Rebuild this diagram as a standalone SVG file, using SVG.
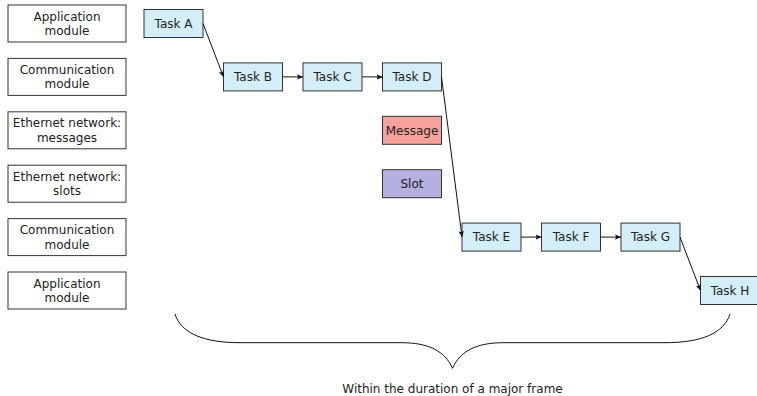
<svg xmlns="http://www.w3.org/2000/svg" width="757" height="396" viewBox="0 0 757 396">
<style>
text{font-family:"DejaVu Sans",sans-serif;font-size:12px;fill:#222;text-anchor:middle}
.lbl rect{fill:#fff;stroke:#333;stroke-width:1}
.task rect{fill:#d4eef8;stroke:#333;stroke-width:1}
.msg rect{fill:#f6a19b;stroke:#333;stroke-width:1}
.slot rect{fill:#b4b0e0;stroke:#333;stroke-width:1}
.conn line{stroke:#111;stroke-width:1;marker-end:url(#ah)}
.brace{fill:none;stroke:#111;stroke-width:1}
</style>
<defs>
<marker id="ah" viewBox="0 0 6 6" refX="6" refY="3" markerWidth="6" markerHeight="6" markerUnits="userSpaceOnUse" orient="auto">
<path d="M0,0.3 L6,3 L0,5.7 L1.2,3 z" fill="#111"/>
</marker>
</defs>
<g id="row1" class="lbl"><rect x="8" y="5" width="118" height="37"/><text x="67" y="20.6">Application</text><text x="67" y="35">module</text></g>
<g id="row2" class="lbl"><rect x="8" y="58.4" width="118" height="37"/><text x="67" y="74">Communication</text><text x="67" y="88.4">module</text></g>
<g id="row3" class="lbl"><rect x="8" y="111.8" width="118" height="37"/><text x="67" y="127.4">Ethernet network:</text><text x="67" y="141.8">messages</text></g>
<g id="row4" class="lbl"><rect x="8" y="165.2" width="118" height="37"/><text x="67" y="180.8">Ethernet network:</text><text x="67" y="195.2">slots</text></g>
<g id="row5" class="lbl"><rect x="8" y="218.6" width="118" height="37"/><text x="67" y="234.2">Communication</text><text x="67" y="248.6">module</text></g>
<g id="row6" class="lbl"><rect x="8" y="272" width="118" height="37"/><text x="67" y="287.6">Application</text><text x="67" y="302">module</text></g>

<g id="taskA" class="task"><rect x="144" y="9.5" width="59" height="28"/><text x="173.5" y="27.8">Task A</text></g>
<g id="taskB" class="task"><rect x="223.5" y="62.9" width="59" height="28"/><text x="253" y="81.2">Task B</text></g>
<g id="taskC" class="task"><rect x="303" y="62.9" width="59" height="28"/><text x="332.5" y="81.2">Task C</text></g>
<g id="taskD" class="task"><rect x="382.5" y="62.9" width="59" height="28"/><text x="412" y="81.2">Task D</text></g>
<g id="message" class="msg"><rect x="382.5" y="116.3" width="59" height="28"/><text x="412" y="134.6">Message</text></g>
<g id="slot" class="slot"><rect x="382.5" y="169.7" width="59" height="28"/><text x="412" y="188">Slot</text></g>
<g id="taskE" class="task"><rect x="462" y="223.1" width="59" height="28"/><text x="491.5" y="241.4">Task E</text></g>
<g id="taskF" class="task"><rect x="541.5" y="223.1" width="59" height="28"/><text x="571" y="241.4">Task F</text></g>
<g id="taskG" class="task"><rect x="621" y="223.1" width="59" height="28"/><text x="650.5" y="241.4">Task G</text></g>
<g id="taskH" class="task"><rect x="700.5" y="276.5" width="59" height="28"/><text x="730" y="294.8">Task H</text></g>

<g id="connectors" class="conn">
<line x1="203" y1="23.5" x2="223.5" y2="76.9"/>
<line x1="282.5" y1="76.9" x2="303" y2="76.9"/>
<line x1="362" y1="76.9" x2="382.5" y2="76.9"/>
<line x1="441.5" y1="76.9" x2="462" y2="237.1"/>
<line x1="521" y1="237.1" x2="541.5" y2="237.1"/>
<line x1="600.5" y1="237.1" x2="621" y2="237.1"/>
<line x1="680" y1="237.1" x2="700.5" y2="290.5"/>
</g>

<g id="brace">
<path class="brace" d="M175,314 C181,333 203,342.7 240,342.7 L402,342.7 C428,342.7 445,351 452.5,368.3 C460,351 477,342.7 503,342.7 L665,342.7 C702,342.7 724,333 730,314"/>
<text x="452.5" y="393">Within the duration of a major frame</text>
</g>
</svg>
